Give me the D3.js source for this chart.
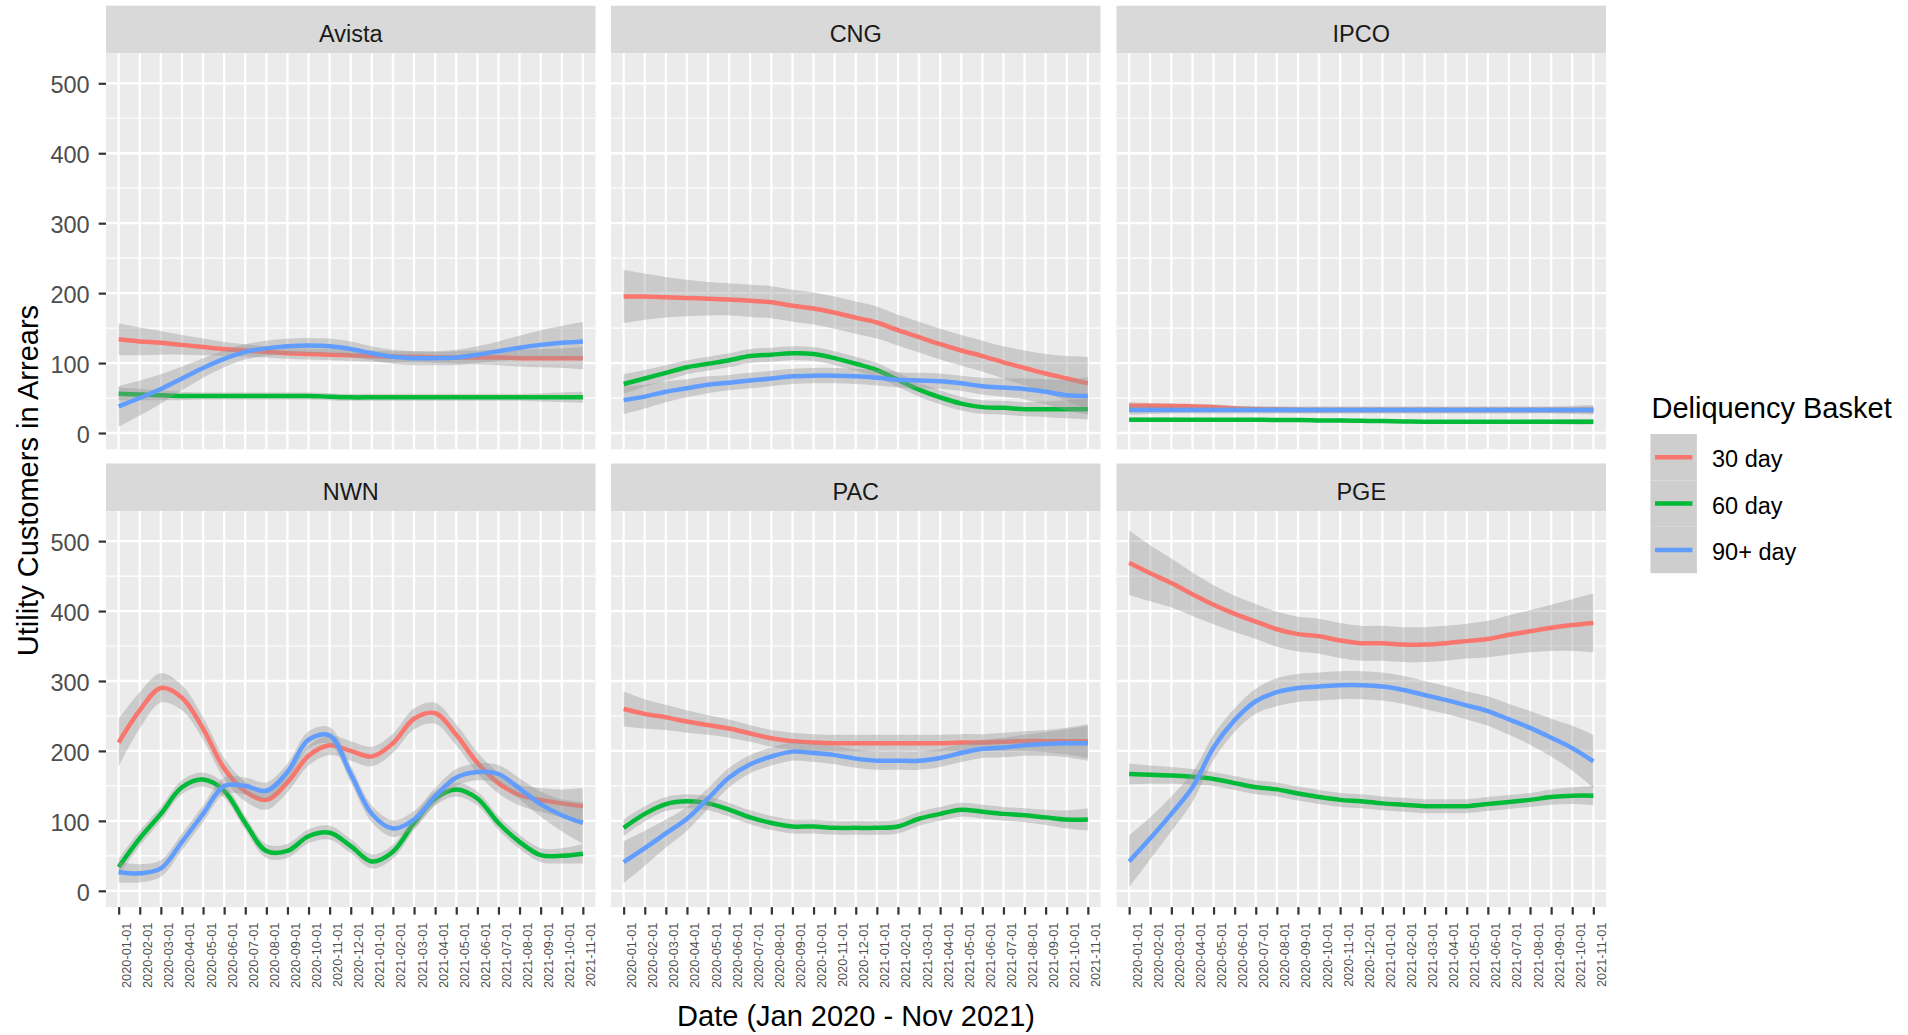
<!DOCTYPE html>
<html>
<head>
<meta charset="utf-8">
<script src="https://cdn.jsdelivr.net/npm/d3@7"></script>
<style>
  body { margin: 0; background: #fff; }
  svg { display: block; }
  text { font-family: "Liberation Sans", Arial, sans-serif; }
</style>
</head>
<body>
<svg id="chart"></svg>
<script>
// months on the (discrete) x axis
const months = ['2020-01-01', '2020-02-01', '2020-03-01', '2020-04-01', '2020-05-01', '2020-06-01',
  '2020-07-01', '2020-08-01', '2020-09-01', '2020-10-01', '2020-11-01', '2020-12-01',
  '2021-01-01', '2021-02-01', '2021-03-01', '2021-04-01', '2021-05-01', '2021-06-01',
  '2021-07-01', '2021-08-01', '2021-09-01', '2021-10-01', '2021-11-01'];
const utilities = ['Avista', 'CNG', 'IPCO', 'NWN', 'PAC', 'PGE'];
const baskets = ['30 day', '60 day', '90+ day'];
const basketColors = ['#F8766D', '#00BA38', '#619CFF'];
const yTicks = [0, 100, 200, 300, 400, 500];
const yMinor = [50, 150, 250, 350, 450];

// smoothed fit per month, and half width of the confidence band
const avista30 = [134, 131, 129, 126, 123, 120, 118, 116, 114, 113, 112, 111, 110, 109, 109, 108, 108, 108, 108, 107, 107, 107, 107];
const avista30Se = [23, 20, 17, 14, 12, 10, 9, 8, 8, 8, 8, 8, 8, 8, 8, 8, 9, 10, 11, 12, 13, 14, 16];
const avista60 = [56, 55, 54, 53, 53, 53, 53, 53, 53, 53, 52, 51, 51, 51, 51, 51, 51, 51, 51, 51, 51, 51, 51];
const avista60Se = [9, 8, 7, 6, 5, 5, 5, 5, 5, 5, 5, 5, 5, 5, 5, 5, 5, 5, 5, 5, 6, 7, 8];
const avista90 = [38, 50, 63, 78, 93, 106, 116, 121, 124, 125, 124, 120, 114, 109, 107, 107, 108, 112, 117, 122, 126, 129, 131];
const avista90Se = [29, 25, 21, 17, 14, 12, 11, 11, 11, 11, 11, 11, 10, 10, 10, 10, 11, 12, 14, 17, 21, 24, 28];

const cng30 = [195, 195, 194, 193, 192, 191, 189, 187, 182, 178, 172, 165, 158, 147, 137, 127, 118, 110, 101, 93, 85, 78, 71];
const cng30Se = [38, 33, 29, 26, 24, 23, 23, 23, 23, 23, 23, 23, 23, 22, 22, 22, 22, 22, 23, 25, 28, 32, 38];
const cng60 = [70, 78, 86, 94, 99, 104, 110, 112, 114, 113, 107, 99, 90, 76, 62, 51, 42, 37, 36, 34, 34, 34, 34];
const cng60Se = [14, 12, 11, 10, 10, 10, 10, 10, 10, 10, 10, 10, 10, 10, 10, 10, 10, 10, 10, 10, 11, 13, 15];
const cng90 = [47, 52, 59, 64, 69, 72, 75, 78, 81, 82, 82, 81, 79, 76, 75, 74, 71, 67, 65, 63, 59, 54, 53];
const cng90Se = [20, 17, 15, 13, 12, 11, 11, 11, 11, 11, 11, 11, 11, 11, 11, 11, 11, 12, 13, 15, 18, 22, 27];

const ipco30 = [39, 39, 38.5, 38, 37, 35, 34, 33.5, 33, 33, 33, 33, 33, 33, 33, 33, 33, 33, 33, 33, 33, 33, 33];
const ipco30Se = [5, 4, 4, 4, 4, 4, 4, 4, 4, 4, 4, 4, 4, 4, 4, 4, 4, 4, 4, 4, 4, 4, 5];
const ipco60 = [19, 19, 19, 19, 19, 19, 19, 18.5, 18.5, 18, 18, 17.5, 17, 16.5, 16, 16, 16, 16, 16, 16, 16, 16, 16];
const ipco60Se = [3, 3, 3, 2, 2, 2, 2, 2, 2, 2, 2, 2, 2, 2, 2, 2, 2, 2, 2, 3, 3, 4, 4];
const ipco90 = [33, 33, 33, 33, 33, 33, 33, 33, 33, 33, 33, 33, 33, 33, 33, 33, 33, 33, 33, 33, 33, 33, 33];
const ipco90Se = [7, 6, 5, 5, 5, 5, 5, 5, 5, 5, 5, 5, 5, 5, 5, 5, 5, 5, 5, 5, 5, 6, 7];

const nwn30 = [212, 258, 290, 276, 232, 175, 142, 130, 155, 193, 208, 200, 192, 211, 246, 254, 223, 183, 154, 137, 130, 125, 121];
const nwn30Se = [34, 26, 21, 18, 16, 15, 14, 14, 14, 14, 14, 14, 14, 14, 15, 15, 15, 15, 15, 15, 17, 20, 26];
const nwn60 = [34, 75, 110, 148, 159, 143, 97, 57, 57, 78, 83, 64, 42, 56, 97, 132, 145, 132, 97, 70, 51, 50, 53];
const nwn60Se = [12, 11, 10, 10, 10, 10, 10, 10, 10, 10, 10, 10, 10, 10, 10, 10, 10, 10, 10, 10, 10, 11, 14];
const nwn90 = [27, 25, 32, 70, 110, 150, 150, 143, 170, 216, 222, 167, 110, 89, 102, 135, 162, 170, 167, 146, 124, 108, 97];
const nwn90Se = [15, 13, 12, 12, 12, 12, 12, 12, 12, 12, 12, 12, 12, 12, 12, 12, 12, 12, 13, 15, 18, 23, 30];

const pac30 = [260, 253, 248, 242, 237, 232, 225, 218, 214, 212, 211, 211, 211, 211, 211, 211, 212, 212, 213, 214, 214, 214, 214];
const pac30Se = [25, 21, 18, 16, 14, 13, 12, 12, 12, 12, 12, 12, 12, 12, 12, 12, 12, 12, 13, 14, 16, 19, 24];
const pac60 = [90, 110, 124, 128, 125, 116, 105, 97, 92, 92, 90, 90, 90, 92, 103, 110, 116, 113, 110, 108, 105, 102, 102];
const pac60Se = [12, 11, 10, 10, 10, 10, 10, 10, 10, 10, 10, 10, 10, 10, 10, 10, 10, 10, 10, 10, 11, 13, 16];
const pac90 = [41, 61, 82, 103, 132, 162, 181, 192, 199, 197, 194, 189, 186, 186, 186, 190, 197, 203, 205, 208, 210, 211, 211];
const pac90Se = [30, 25, 20, 17, 15, 14, 13, 13, 13, 13, 13, 13, 13, 13, 13, 13, 13, 13, 14, 15, 17, 20, 25];

const pge30 = [469, 454, 440, 424, 409, 396, 385, 374, 367, 364, 358, 354, 354, 352, 352, 354, 357, 360, 366, 371, 376, 380, 383];
const pge30Se = [46, 40, 35, 31, 28, 26, 25, 25, 25, 25, 25, 25, 25, 25, 25, 25, 25, 26, 28, 30, 33, 37, 42];
const pge60 = [167, 166, 165, 163, 160, 154, 148, 145, 139, 134, 130, 128, 125, 123, 121, 121, 121, 124, 127, 130, 134, 136, 136];
const pge60Se = [15, 13, 12, 11, 10, 10, 10, 10, 10, 10, 10, 10, 10, 10, 10, 10, 10, 10, 10, 10, 11, 12, 14];
const pge90 = [42, 75, 110, 148, 205, 244, 271, 284, 290, 292, 294, 294, 292, 287, 280, 273, 265, 257, 245, 233, 219, 204, 185];
const pge90Se = [37, 30, 25, 21, 18, 17, 18, 20, 20, 20, 20, 20, 20, 20, 20, 20, 20, 21, 22, 24, 27, 32, 38];

const panels = {
  Avista: [[avista30, avista30Se], [avista60, avista60Se], [avista90, avista90Se]],
  CNG: [[cng30, cng30Se], [cng60, cng60Se], [cng90, cng90Se]],
  IPCO: [[ipco30, ipco30Se], [ipco60, ipco60Se], [ipco90, ipco90Se]],
  NWN: [[nwn30, nwn30Se], [nwn60, nwn60Se], [nwn90, nwn90Se]],
  PAC: [[pac30, pac30Se], [pac60, pac60Se], [pac90, pac90Se]],
  PGE: [[pge30, pge30Se], [pge60, pge60Se], [pge90, pge90Se]],
};

// layout
const width = 1908;
const height = 1035;
const colX = [106, 611, 1116.5];
const rowY = [5.7, 463.5];
const panelW = 489.5;
const stripH = 47.6;
const panelH = 396;

const svg = d3.select('#chart')
  .attr('width', width)
  .attr('height', height);

const x = d3.scalePoint()
  .domain(months)
  .range([0, panelW])
  .padding(0.6);

const y = d3.scaleLinear()
  .domain([-23.3, 542.9])
  .range([panelH, 0]);

const line = d3.line()
  .x((d, i) => x(months[i]))
  .y(d => y(d))
  .curve(d3.curveCatmullRom.alpha(0.5));

const area = d3.area()
  .x(d => x(d.m))
  .y0(d => y(d.lo))
  .y1(d => y(d.hi))
  .curve(d3.curveCatmullRom.alpha(0.5));

utilities.forEach((name, k) => {
  const col = k % 3;
  const row = Math.floor(k / 3);
  const g = svg.append('g')
    .attr('transform', `translate(${colX[col]}, ${rowY[row]})`);

  // strip
  g.append('rect')
    .attr('width', panelW)
    .attr('height', stripH)
    .attr('fill', '#D9D9D9');
  g.append('text')
    .attr('x', panelW / 2)
    .attr('y', 36)
    .attr('text-anchor', 'middle')
    .attr('fill', '#1A1A1A')
    .style('font-size', '23.5px')
    .text(name);

  const p = g.append('g')
    .attr('transform', `translate(0, ${stripH})`);

  p.append('rect')
    .attr('width', panelW)
    .attr('height', panelH)
    .attr('fill', '#EBEBEB');

  p.selectAll('.minor')
    .data(yMinor)
    .enter().append('line')
    .attr('x1', 0)
    .attr('x2', panelW)
    .attr('y1', d => y(d))
    .attr('y2', d => y(d))
    .attr('stroke', '#fff')
    .attr('stroke-width', 1.2);

  p.selectAll('.hmajor')
    .data(yTicks)
    .enter().append('line')
    .attr('x1', 0)
    .attr('x2', panelW)
    .attr('y1', d => y(d))
    .attr('y2', d => y(d))
    .attr('stroke', '#fff')
    .attr('stroke-width', 2.3);

  p.selectAll('.vmajor')
    .data(months)
    .enter().append('line')
    .attr('x1', d => x(d))
    .attr('x2', d => x(d))
    .attr('y1', 0)
    .attr('y2', panelH)
    .attr('stroke', '#fff')
    .attr('stroke-width', 2.3);

  // ribbon then line, group by group (as geom_smooth draws it)
  panels[name].forEach(([fit, se], s) => {
    const band = fit.map((v, i) => ({ m: months[i], lo: v - se[i], hi: v + se[i] }));
    p.append('path')
      .attr('d', area(band))
      .attr('fill', '#999999')
      .attr('fill-opacity', 0.4);
    p.append('path')
      .attr('d', line(fit))
      .attr('fill', 'none')
      .attr('stroke', basketColors[s])
      .attr('stroke-width', 4.5);
  });

  if (col === 0) {
    const ax = p.append('g')
      .call(d3.axisLeft(y).tickValues(yTicks).tickSize(7.3).tickPadding(9));
    ax.select('.domain').remove();
    ax.selectAll('line').attr('stroke', '#333333').attr('stroke-width', 2.2);
    ax.selectAll('text')
      .attr('fill', '#4D4D4D')
      .attr('dy', '0.4em')
      .style('font-size', '23.5px')
      .style('font-family', '"Liberation Sans", Arial, sans-serif');
  }

  if (row === 1) {
    const ax = p.append('g')
      .attr('transform', `translate(0, ${panelH})`)
      .call(d3.axisBottom(x).tickSize(7.5));
    ax.select('.domain').remove();
    ax.selectAll('line').attr('stroke', '#333333').attr('stroke-width', 2.2);
    ax.selectAll('text')
      .attr('fill', '#4D4D4D')
      .attr('transform', 'rotate(-90)')
      .attr('x', -15.5)
      .attr('y', 7.5)
      .attr('dy', '0.35em')
      .attr('text-anchor', 'end')
      .style('font-size', '12.8px')
      .style('font-family', '"Liberation Sans", Arial, sans-serif');
  }
});

// axis titles
svg.append('text')
  .attr('transform', `translate(38, 480.6) rotate(-90)`)
  .attr('text-anchor', 'middle')
  .style('font-size', '29px')
  .text('Utility Customers in Arrears');

svg.append('text')
  .attr('x', (colX[0] + colX[2] + panelW) / 2)
  .attr('y', 1026)
  .attr('text-anchor', 'middle')
  .style('font-size', '29px')
  .text('Date (Jan 2020 - Nov 2021)');

// legend
const legend = svg.append('g')
  .attr('transform', 'translate(1650.5, 434)');
const keySize = 46.4;

legend.append('text')
  .attr('x', 1)
  .attr('y', -16.5)
  .style('font-size', '29px')
  .text('Deliquency Basket');

baskets.forEach((b, i) => {
  const kg = legend.append('g')
    .attr('transform', `translate(0, ${i * keySize})`);
  kg.append('rect')
    .attr('width', keySize)
    .attr('height', keySize)
    .attr('fill', '#F2F2F2');
  kg.append('rect')
    .attr('width', keySize)
    .attr('height', keySize)
    .attr('fill', '#999999')
    .attr('fill-opacity', 0.4);
  kg.append('line')
    .attr('x1', 4.5)
    .attr('x2', keySize - 4.5)
    .attr('y1', keySize / 2)
    .attr('y2', keySize / 2)
    .attr('stroke', basketColors[i])
    .attr('stroke-width', 4.5);
  kg.append('text')
    .attr('x', 61.5)
    .attr('y', keySize / 2 + 10)
    .style('font-size', '23.5px')
    .text(b);
});
</script>
</body>
</html>
